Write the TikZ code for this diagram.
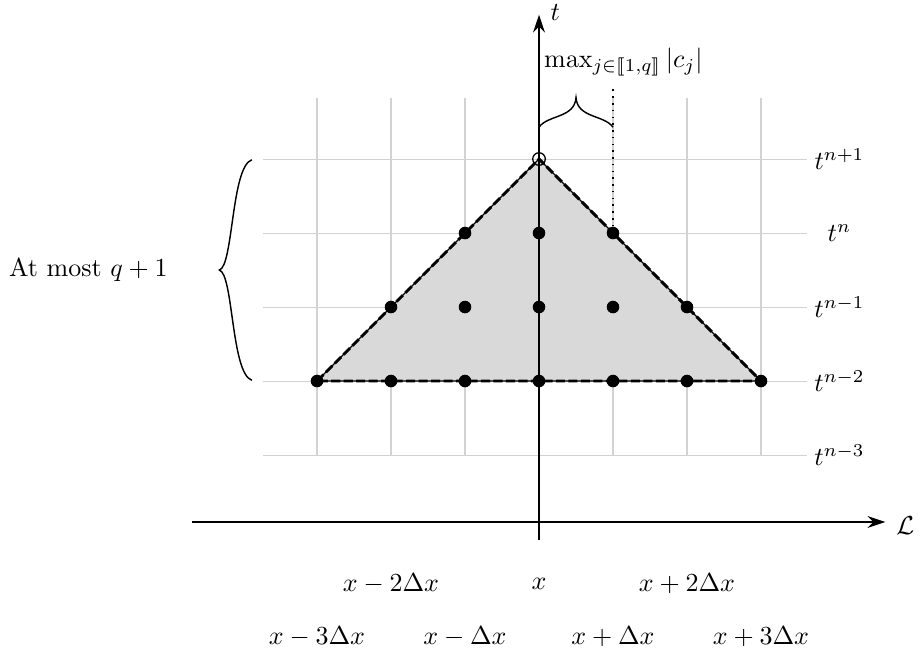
\documentclass[tikz,border=0pt]{standalone}
\usepackage{amsmath,amssymb,stmaryrd}
\usetikzlibrary{arrows.meta}
\begin{document}
\begin{tikzpicture}[x=1cm,y=1cm,
  gridline/.style={gray!35, line width=0.4pt},
  axis/.style={-{Stealth[length=2.4mm,width=1.6mm]}, line width=0.6pt},
  dotnode/.style={circle, fill=black, inner sep=0pt, minimum size=1.7mm},
  odotnode/.style={circle, draw=black, fill=none, inner sep=0pt, minimum size=1.7mm, line width=0.5pt},
  hullsolid/.style={line width=0.5pt},
  hulldash/.style={line width=1.1pt, dash pattern=on 3.5pt off 1.3pt},
  bracestyle/.style={line width=0.55pt, line join=miter},
  lbl/.style={inner sep=1pt}]
\useasboundingbox (-7.284,-2.743) rectangle (5.162,6.149);

% grid
\foreach \j in {0,...,4} \draw[gridline] (-3.73,\j) -- (3.62,\j);
\foreach \i in {-3,...,3} \draw[gridline] (\i,0) -- (\i,4.82);

% hull coordinates
\coordinate (hl) at (-3,1);
\coordinate (ht) at (0,4);
\coordinate (hr) at (3,1);
\fill[gray!30] (hl) -- (ht) -- (hr) -- cycle;

% axes
\coordinate (xs) at (-4.69,-0.905);
\coordinate (xe) at (4.68,-0.905);
\coordinate (ys) at (0,-1.15);
\coordinate (ye) at (0,5.95);
\draw[axis] (xs) -- (xe);
\draw[axis] (ys) -- (ye);
\node[lbl] (Lab) at (4.95,-0.95) {$\mathcal{L}$};
\node[lbl] (tlab) at (0.22,5.98) {$t$};

% hull outline
\draw[hullsolid] (hl) -- (ht) -- (hr) -- cycle;
\draw[hulldash] (hl) -- (ht) -- (hr) -- cycle;

% dots
\foreach \i in {-3,...,3} \node[dotnode] (b\i) at (\i,1) {};
\foreach \i in {-2,...,2} \node[dotnode] (c\i) at (\i,2) {};
\foreach \i in {-1,...,1} \node[dotnode] (d\i) at (\i,3) {};
\node[odotnode] (top) at (0,4) {};

% right labels
\node[lbl] (r4) at (4.06,4) {$t^{n+1}$};
\node[lbl] (r3) at (4.06,3) {$t^{n}$};
\node[lbl] (r2) at (4.06,2) {$t^{n-1}$};
\node[lbl] (r1) at (4.06,1) {$t^{n-2}$};
\node[lbl] (r0) at (4.06,0) {$t^{n-3}$};

% bottom labels
\node[lbl] (xm2) at (-2,-1.74) {$x-2\Delta x$};
\node[lbl] (x0) at (0,-1.74) {$x$};
\node[lbl] (xp2) at (2,-1.74) {$x+2\Delta x$};
\node[lbl] (xm3) at (-3,-2.45) {$x-3\Delta x$};
\node[lbl] (xm1) at (-1,-2.45) {$x-\Delta x$};
\node[lbl] (xp1) at (1,-2.45) {$x+\Delta x$};
\node[lbl] (xp3) at (3,-2.45) {$x+3\Delta x$};

% left brace
\coordinate (lb1) at (-3.88,1.01);
\coordinate (lb2) at (-3.88,3.99);
\coordinate (lbt) at (-4.32,2.5);
\draw[bracestyle] (lb2) .. controls (-4.16,3.9) and (-4.13,2.55) .. (lbt)
                        .. controls (-4.13,2.45) and (-4.16,1.1) .. (lb1);
\node[lbl] (most) at (-6.09,2.5) {At most $q+1$};

% top brace
\coordinate (tb1) at (0,4.43);
\coordinate (tb2) at (1,4.43);
\coordinate (tbt) at (0.5,4.83);
\draw[bracestyle] (tb1) .. controls (0.12,4.6) and (0.48,4.55) .. (tbt)
                        .. controls (0.52,4.55) and (0.88,4.6) .. (tb2);
\coordinate (dt) at (1,4.97);
\draw[dotted, line width=0.6pt] (d1.center) -- (dt);
\node[lbl] (maxlab) at (1.14,5.31) {$\max_{j\in\llbracket 1,q\rrbracket}|c_j|$};
\end{tikzpicture}
\end{document}
